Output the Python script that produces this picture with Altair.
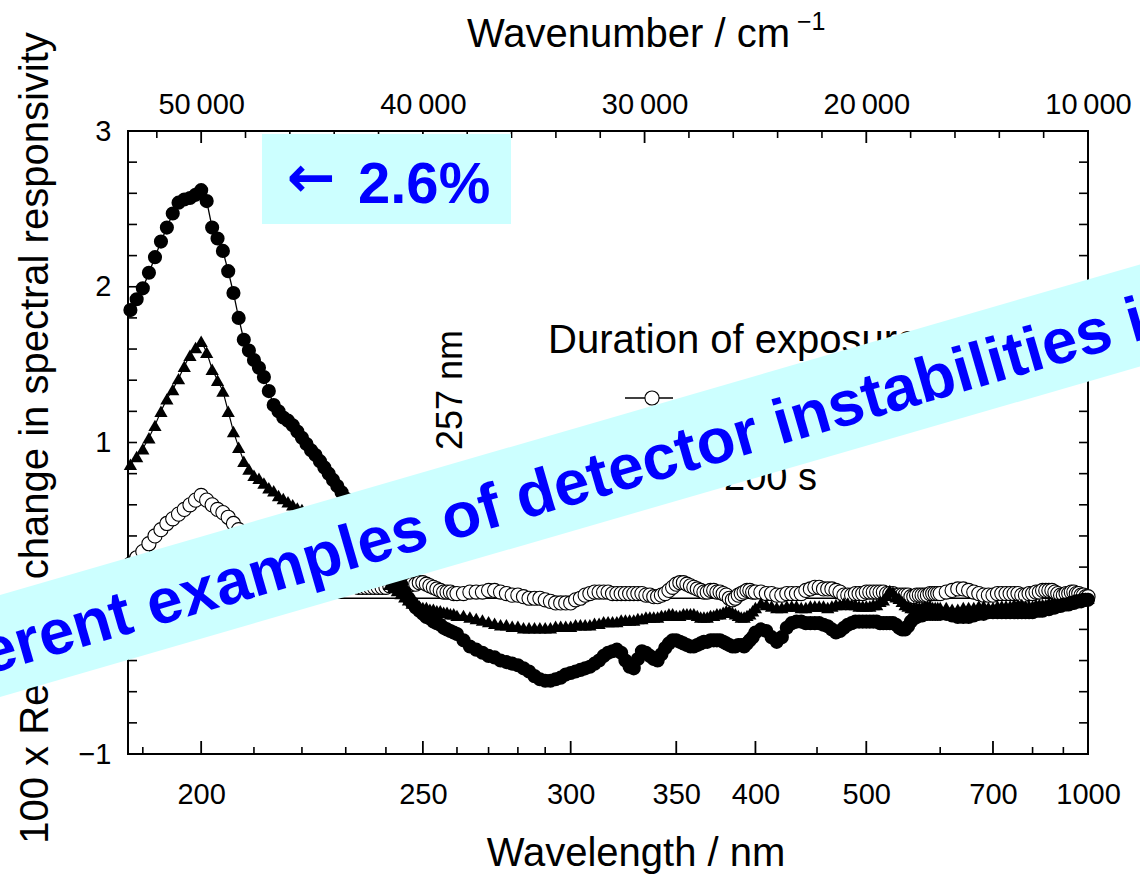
import altair as alt
import pandas as pd

# ---------------------------------------------------------------------------
# Measured relative change in spectral responsivity (x100) for three
# exposure durations, sampled on a common wavelength grid (nm).
# ---------------------------------------------------------------------------
WAVELENGTH = [
    188, 189, 190, 191, 192, 193, 194, 195, 196, 197,
    198, 199, 200, 201, 202, 203, 204, 205, 206, 207,
    208, 209, 210, 211, 212, 213, 214, 215, 216, 217,
    218, 219, 220, 221, 222, 223, 224, 225, 226, 227,
    228, 229, 230, 231, 232, 233, 234, 235, 236, 237,
    238, 239, 240, 241, 242, 243, 244, 245, 246, 247,
    248, 249, 250, 251, 252, 253, 254, 255, 256, 257,
    258, 259, 260,
    262, 264, 266, 268, 270, 272, 274, 276, 278, 280,
    282, 284, 286, 288, 290, 292, 294, 296, 298, 300,
    302, 304, 306, 308, 310, 312, 314, 316, 318, 320,
    322, 324, 326, 328, 330, 332, 334, 336, 338, 340,
    342, 344, 346, 348, 350, 352, 354, 356, 358, 360,
    362, 364, 366, 368, 370, 372, 374, 376, 378, 380,
    382, 384, 386, 388, 390, 392, 394, 396, 398, 400,
    404, 408, 412, 416, 420, 424, 428, 432, 436, 440,
    444, 448, 452, 456, 460, 464, 468, 472, 476, 480,
    484, 488, 492, 496, 500, 504, 508, 512, 516, 520,
    524, 528, 532, 536, 540, 544, 548, 552, 556, 560,
    564, 568, 572, 576, 580, 584, 588, 592, 596, 600,
    610, 620, 630, 640, 650, 660, 670, 680, 690, 700,
    710, 720, 730, 740, 750, 760, 770, 780, 790, 800,
    810, 820, 830, 840, 850, 860, 870, 880, 890, 900,
    910, 920, 930, 940, 950, 960, 970, 980, 990, 1000,
]

# shortest exposure (open circles)
OPEN = [
    0.22, 0.26, 0.30, 0.35, 0.40, 0.44, 0.48, 0.51, 0.54, 0.57,
    0.60, 0.63, 0.66, 0.63, 0.60, 0.57, 0.55, 0.52, 0.48, 0.44,
    0.40, 0.36, 0.33, 0.30, 0.27, 0.24, 0.22, 0.20, 0.18, 0.16,
    0.15, 0.14, 0.13, 0.12, 0.12, 0.11, 0.11, 0.10, 0.10, 0.09,
    0.09, 0.08, 0.08, 0.08, 0.08, 0.07, 0.07, 0.07, 0.07, 0.07,
    0.07, 0.07, 0.07, 0.08, 0.08, 0.07, 0.07, 0.08, 0.08, 0.09,
    0.09, 0.10, 0.10, 0.09, 0.08, 0.07, 0.06, 0.05, 0.04, 0.04,
    0.04, 0.03, 0.03,
    0.03, 0.04, 0.04, 0.04, 0.05, 0.05, 0.04, 0.03, 0.02, 0.02,
    0.01, 0.00, 0.00, 0.00, -0.01, -0.02, -0.03, -0.03, -0.03, -0.03,
    -0.01, 0.00, 0.02, 0.03, 0.04, 0.04, 0.04, 0.04, 0.03, 0.03,
    0.03, 0.03, 0.03, 0.03, 0.03, 0.03, 0.02, 0.02, 0.01, 0.01,
    0.02, 0.03, 0.05, 0.07, 0.09, 0.10, 0.10, 0.09, 0.08, 0.07,
    0.06, 0.05, 0.04, 0.04, 0.05, 0.05, 0.04, 0.04, 0.03, 0.02,
    0.00, -0.01, 0.00, 0.02, 0.03, 0.04, 0.05, 0.05, 0.04, 0.04,
    0.04, 0.03, 0.03, 0.02, 0.02, 0.03, 0.03, 0.03, 0.03, 0.05,
    0.06, 0.07, 0.07, 0.06, 0.06, 0.06, 0.05, 0.04, 0.02, 0.02,
    0.02, 0.03, 0.03, 0.03, 0.04, 0.04, 0.04, 0.04, 0.04, 0.04,
    0.03, 0.03, 0.03, 0.02, 0.02, 0.02, 0.02, 0.02, 0.01, 0.01,
    0.02, 0.02, 0.02, 0.02, 0.02, 0.03, 0.03, 0.03, 0.03, 0.03,
    0.04, 0.05, 0.06, 0.06, 0.05, 0.04, 0.03, 0.02, 0.02, 0.02,
    0.03, 0.03, 0.03, 0.03, 0.03, 0.03, 0.02, 0.02, 0.03, 0.03,
    0.04, 0.04, 0.05, 0.05, 0.05, 0.05, 0.04, 0.03, 0.02, 0.02,
    0.03, 0.03, 0.04, 0.04, 0.03, 0.03, 0.02, 0.02, 0.01, 0.01,
]

# intermediate exposure (triangles)
TRIANGLE = [
    0.86, 0.91, 0.96, 1.03, 1.11, 1.20, 1.28, 1.34, 1.41, 1.49,
    1.56, 1.61, 1.65, 1.58, 1.47, 1.40, 1.33, 1.20, 1.07, 0.97,
    0.88, 0.83, 0.79, 0.77, 0.74, 0.71, 0.69, 0.66, 0.64, 0.62,
    0.60, 0.58, 0.57, 0.55, 0.54, 0.52, 0.51, 0.49, 0.48, 0.46,
    0.45, 0.43, 0.41, 0.38, 0.36, 0.33, 0.30, 0.27, 0.24, 0.21,
    0.18, 0.15, 0.12, 0.09, 0.07, 0.05, 0.03, 0.01, -0.01, -0.03,
    -0.04, -0.05, -0.06, -0.06, -0.07, -0.07, -0.08, -0.08, -0.09, -0.09,
    -0.10, -0.10, -0.11,
    -0.11, -0.12, -0.13, -0.14, -0.15, -0.16, -0.17, -0.17, -0.18, -0.18,
    -0.19, -0.19, -0.19, -0.19, -0.19, -0.19, -0.18, -0.18, -0.18, -0.18,
    -0.17, -0.17, -0.17, -0.17, -0.16, -0.16, -0.15, -0.15, -0.15, -0.15,
    -0.14, -0.14, -0.14, -0.14, -0.13, -0.13, -0.12, -0.12, -0.12, -0.12,
    -0.11, -0.11, -0.10, -0.10, -0.11, -0.11, -0.10, -0.10, -0.10, -0.10,
    -0.11, -0.12, -0.12, -0.12, -0.11, -0.11, -0.10, -0.10, -0.09, -0.08,
    -0.08, -0.09, -0.10, -0.11, -0.12, -0.12, -0.11, -0.10, -0.08, -0.06,
    -0.03, -0.04, -0.05, -0.06, -0.06, -0.05, -0.05, -0.05, -0.06, -0.06,
    -0.05, -0.05, -0.05, -0.05, -0.06, -0.05, -0.04, -0.04, -0.03, -0.03,
    -0.04, -0.04, -0.05, -0.05, -0.05, -0.05, -0.04, -0.04, -0.02, -0.01,
    0.02, 0.05, 0.04, 0.01, 0.00, -0.02, -0.04, -0.05, -0.06, -0.06,
    -0.06, -0.06, -0.06, -0.05, -0.05, -0.05, -0.06, -0.06, -0.06, -0.06,
    -0.06, -0.07, -0.07, -0.06, -0.06, -0.06, -0.05, -0.05, -0.06, -0.06,
    -0.05, -0.05, -0.05, -0.05, -0.04, -0.04, -0.04, -0.05, -0.05, -0.05,
    -0.04, -0.04, -0.04, -0.04, -0.03, -0.03, -0.03, -0.03, -0.04, -0.04,
    -0.03, -0.03, -0.02, -0.02, -0.02, -0.02, -0.01, -0.01, 0.00, 0.00,
]

# longest exposure (filled circles)
FILLED = [
    1.85, 1.92, 1.99, 2.09, 2.19, 2.29, 2.38, 2.47, 2.54, 2.56,
    2.57, 2.59, 2.62, 2.55, 2.38, 2.31, 2.23, 2.10, 1.96, 1.80,
    1.66, 1.59, 1.53, 1.48, 1.42, 1.33, 1.24, 1.20, 1.16, 1.14,
    1.11, 1.07, 1.03, 0.99, 0.95, 0.92, 0.88, 0.84, 0.80, 0.76,
    0.72, 0.68, 0.64, 0.60, 0.56, 0.52, 0.48, 0.44, 0.40, 0.36,
    0.32, 0.28, 0.24, 0.20, 0.16, 0.12, 0.09, 0.04, 0.00, -0.03,
    -0.06, -0.08, -0.10, -0.12, -0.13, -0.15, -0.16, -0.17, -0.19, -0.20,
    -0.21, -0.22, -0.23,
    -0.27, -0.31, -0.33, -0.35, -0.37, -0.38, -0.40, -0.41, -0.42, -0.43,
    -0.45, -0.47, -0.50, -0.52, -0.53, -0.53, -0.52, -0.51, -0.49, -0.48,
    -0.47, -0.46, -0.45, -0.44, -0.42, -0.40, -0.37, -0.35, -0.34, -0.33,
    -0.35, -0.40, -0.44, -0.45, -0.39, -0.34, -0.35, -0.37, -0.39, -0.40,
    -0.36, -0.32, -0.29, -0.27, -0.27, -0.28, -0.29, -0.30, -0.31, -0.31,
    -0.30, -0.29, -0.28, -0.28, -0.27, -0.27, -0.27, -0.27, -0.28, -0.29,
    -0.30, -0.31, -0.31, -0.30, -0.30, -0.31, -0.29, -0.27, -0.25, -0.22,
    -0.20, -0.21, -0.25, -0.28, -0.25, -0.19, -0.16, -0.15, -0.15, -0.16,
    -0.16, -0.16, -0.16, -0.17, -0.18, -0.20, -0.22, -0.21, -0.19, -0.17,
    -0.16, -0.15, -0.15, -0.15, -0.15, -0.15, -0.15, -0.15, -0.16, -0.16,
    -0.16, -0.16, -0.16, -0.17, -0.19, -0.20, -0.20, -0.18, -0.15, -0.13,
    -0.12, -0.11, -0.11, -0.10, -0.10, -0.10, -0.10, -0.10, -0.10, -0.10,
    -0.10, -0.11, -0.12, -0.12, -0.12, -0.11, -0.10, -0.10, -0.09, -0.09,
    -0.09, -0.09, -0.09, -0.09, -0.09, -0.09, -0.09, -0.09, -0.09, -0.09,
    -0.08, -0.08, -0.08, -0.07, -0.07, -0.06, -0.06, -0.05, -0.05, -0.04,
    -0.04, -0.04, -0.03, -0.03, -0.02, -0.02, -0.02, -0.01, -0.01, -0.01,
]

# Axis ticks: bottom axis in nm, top axis in cm^-1, left/right in percent
BOTTOM_MAJOR = [200, 250, 300, 350, 400, 500, 700, 1000]
BOTTOM_MINOR = [190, 210, 220, 230, 240, 260, 270, 280, 290, 450, 600, 800, 900]
TOP_MAJOR = [50000, 40000, 30000, 20000, 10000]
TOP_MINOR = [52000, 48000, 46000, 44000, 42000, 38000, 36000, 34000, 32000,
             28000, 26000, 24000, 22000, 18000, 16000, 14000, 12000]
Y_LABELS = [-1, 0, 1, 2, 3]
Y_TICKS = [-0.8, -0.6, -0.4, -0.2, 0.0, 0.2, 0.4, 0.6, 0.8, 1.0, 1.2, 1.4, 1.6,
           1.8, 2.0, 2.2, 2.4, 2.6, 2.8]

W, H = 960, 623
FONT = "Liberation Sans"
INK = "black"
CYAN = "#CCFFFF"
BLUE = "#0000FF"
MARK = 200

xscale = alt.Scale(domain=[53300, 10000], nice=False, zero=False)
yscale = alt.Scale(domain=[-1, 3], nice=False, zero=False)


def xq(field="wn", axis=None):
    return alt.X(f"{field}:Q", scale=xscale, axis=axis)


def yq(field, axis=None):
    return alt.Y(f"{field}:Q", scale=yscale, axis=axis)


def nm_frame(values):
    df = pd.DataFrame({"wl": values})
    df["wn"] = 1e7 / df["wl"]
    return df


def one_row(text=""):
    return pd.DataFrame({"t": [text]})


axis_style = dict(grid=False, ticks=False, tickSize=0, domain=False, title=None,
                  labelFont=FONT, labelFontSize=29, labelColor=INK, zindex=0,
                  labelFlush=False, labelOverlap=False, labelBound=False)

series = pd.DataFrame({"wl": WAVELENGTH, "open": OPEN, "tri": TRIANGLE, "filled": FILLED})
series["wn"] = 1e7 / series["wl"]
base = alt.Chart(series)

# --- frame decorations ----------------------------------------------------
zero_line = alt.Chart(pd.DataFrame({"v": [0]})).mark_rule(color=INK, strokeWidth=1.3).encode(
    y=yq("v"))

y_left = alt.Chart(pd.DataFrame({"v": Y_TICKS})).mark_rule(color=INK, strokeWidth=1.6).encode(
    y=yq("v", axis=alt.Axis(orient="left", values=Y_LABELS, labelPadding=17,
                            labelBaseline="middle", **axis_style)),
    x=alt.value(0), x2=alt.value(9))
y_right = alt.Chart(pd.DataFrame({"v": Y_TICKS})).mark_rule(color=INK, strokeWidth=1.6).encode(
    y=yq("v"), x=alt.value(W - 9), x2=alt.value(W))

bottom_axis = alt.Axis(orient="bottom", values=[1e7 / w for w in BOTTOM_MAJOR],
                       labelExpr="format(1e7 / datum.value, 'd')", labelPadding=49,
                       labelBaseline="alphabetic", **axis_style)
b_major = alt.Chart(nm_frame(BOTTOM_MAJOR)).mark_rule(color=INK, strokeWidth=1.8).encode(
    x=xq(axis=bottom_axis), y=alt.value(H), y2=alt.value(H - 13))
b_minor = alt.Chart(nm_frame(BOTTOM_MINOR)).mark_rule(color=INK, strokeWidth=1.6).encode(
    x=xq(), y=alt.value(H), y2=alt.value(H - 7))

top_axis = alt.Axis(orient="top", values=TOP_MAJOR,
                    labelExpr="floor(datum.value / 1000) + '\u2009000'", labelPadding=18,
                    labelBaseline="alphabetic", **axis_style)
t_major = alt.Chart(pd.DataFrame({"wn": TOP_MAJOR})).mark_rule(color=INK, strokeWidth=1.8).encode(
    x=xq(axis=top_axis), y=alt.value(0), y2=alt.value(12))
t_minor = alt.Chart(pd.DataFrame({"wn": TOP_MINOR})).mark_rule(color=INK, strokeWidth=1.6).encode(
    x=xq(), y=alt.value(0), y2=alt.value(7))

# --- data series -----------------------------------------------------------
open_line = base.mark_line(color=INK, strokeWidth=1.2).encode(x=xq(), y=yq("open"))
open_pts = base.mark_point(shape="circle", size=MARK, filled=True, fill="white",
                           stroke=INK, strokeWidth=1.1, opacity=1).encode(x=xq(), y=yq("open"))
tri_line = base.mark_line(color=INK, strokeWidth=1.2).encode(x=xq(), y=yq("tri"))
tri_pts = base.mark_point(shape="triangle-up", size=175, filled=True, color=INK,
                          opacity=1).encode(x=xq(), y=yq("tri"))
fil_line = base.mark_line(color=INK, strokeWidth=1.3).encode(x=xq(), y=yq("filled"))
fil_pts = base.mark_circle(size=MARK, color=INK, opacity=1).encode(x=xq(), y=yq("filled"))


# --- free text ---------------------------------------------------------------
def text(t, x, y, size, **kw):
    style = dict(font=FONT, fontSize=size, color=INK)
    style.update(kw)
    return alt.Chart(one_row(t)).mark_text(**style).encode(
        text="t:N", x=alt.value(x), y=alt.value(y))


x_title = text("Wavelength / nm", 508, 735, 40, align="center", baseline="alphabetic")
top_title = text("Wavenumber / cm", 339, -84, 40, align="left", baseline="alphabetic")
top_sup = text("\u22121", 669, -101, 25, align="left", baseline="alphabetic")
y_title = text("100 x Relative change in spectral responsivity", -80, 307, 40,
               angle=270, align="center", baseline="alphabetic")
mark_257 = text("257 nm", 334, 259, 36, angle=270, align="center", baseline="alphabetic")

# --- legend -----------------------------------------------------------------
leg_title = text("Duration of exposure", 420, 222, 40, align="left", baseline="alphabetic")
LEG_Y = [267, 308, 347]


def leg_line(y):
    return alt.Chart(one_row()).mark_rule(color=INK, strokeWidth=1.3).encode(
        x=alt.value(497), x2=alt.value(545), y=alt.value(y))


leg_items = [
    leg_line(LEG_Y[0]),
    alt.Chart(one_row()).mark_point(shape="circle", size=MARK, filled=True, fill="white",
                                    stroke=INK, strokeWidth=1.1, opacity=1).encode(
        x=alt.value(524), y=alt.value(LEG_Y[0])),
    leg_line(LEG_Y[1]),
    alt.Chart(one_row()).mark_point(shape="triangle-up", size=175, filled=True, color=INK,
                                    opacity=1).encode(x=alt.value(524), y=alt.value(LEG_Y[1])),
    leg_line(LEG_Y[2]),
    alt.Chart(one_row()).mark_circle(size=MARK, color=INK, opacity=1).encode(
        x=alt.value(524), y=alt.value(LEG_Y[2])),
    text("3\u2009200 s", 689, 359, 38, align="right", baseline="alphabetic"),
]

# --- call-out box and slanted banner -----------------------------------------
peak_box = alt.Chart(one_row()).mark_rect(color=CYAN, opacity=1).encode(
    x=alt.value(134), x2=alt.value(383), y=alt.value(3), y2=alt.value(93))
peak_arrow = text("\u2190", 183, 49, 58, font="DejaVu Sans", fontWeight="bold",
                  color=BLUE, align="center", baseline="middle")
peak_text = text("2.6%", 230, 72, 58, fontWeight="bold", color=BLUE,
                 align="left", baseline="alphabetic")

banner = alt.Chart(one_row()).mark_rule(color=CYAN, strokeWidth=98, strokeCap="butt",
                                        opacity=1).encode(
    x=alt.value(-278), y=alt.value(558.5), x2=alt.value(1172), y2=alt.value(138))
banner_text = text("Different examples of detector instabilities in", -242.6, 573.3, 63.5,
                   fontWeight="bold", color=BLUE, angle=343.83, align="left",
                   baseline="alphabetic")

chart = alt.layer(
    zero_line, y_left, y_right, b_major, b_minor, t_major, t_minor,
    open_line, open_pts, tri_line, tri_pts, fil_line, fil_pts,
    x_title, top_title, top_sup, y_title, mark_257, leg_title, *leg_items,
    peak_box, peak_arrow, peak_text, banner, banner_text,
).resolve_axis(
    x="independent", y="independent"
).properties(
    width=W, height=H,
    padding={"left": 128, "top": 131, "right": 52, "bottom": 122},
    autosize=alt.AutoSizeParams(type="none"),
    background="white",
).configure_view(
    stroke=INK, strokeWidth=2
)

chart.save("out.html", embed_options={"renderer": "svg", "actions": False})
